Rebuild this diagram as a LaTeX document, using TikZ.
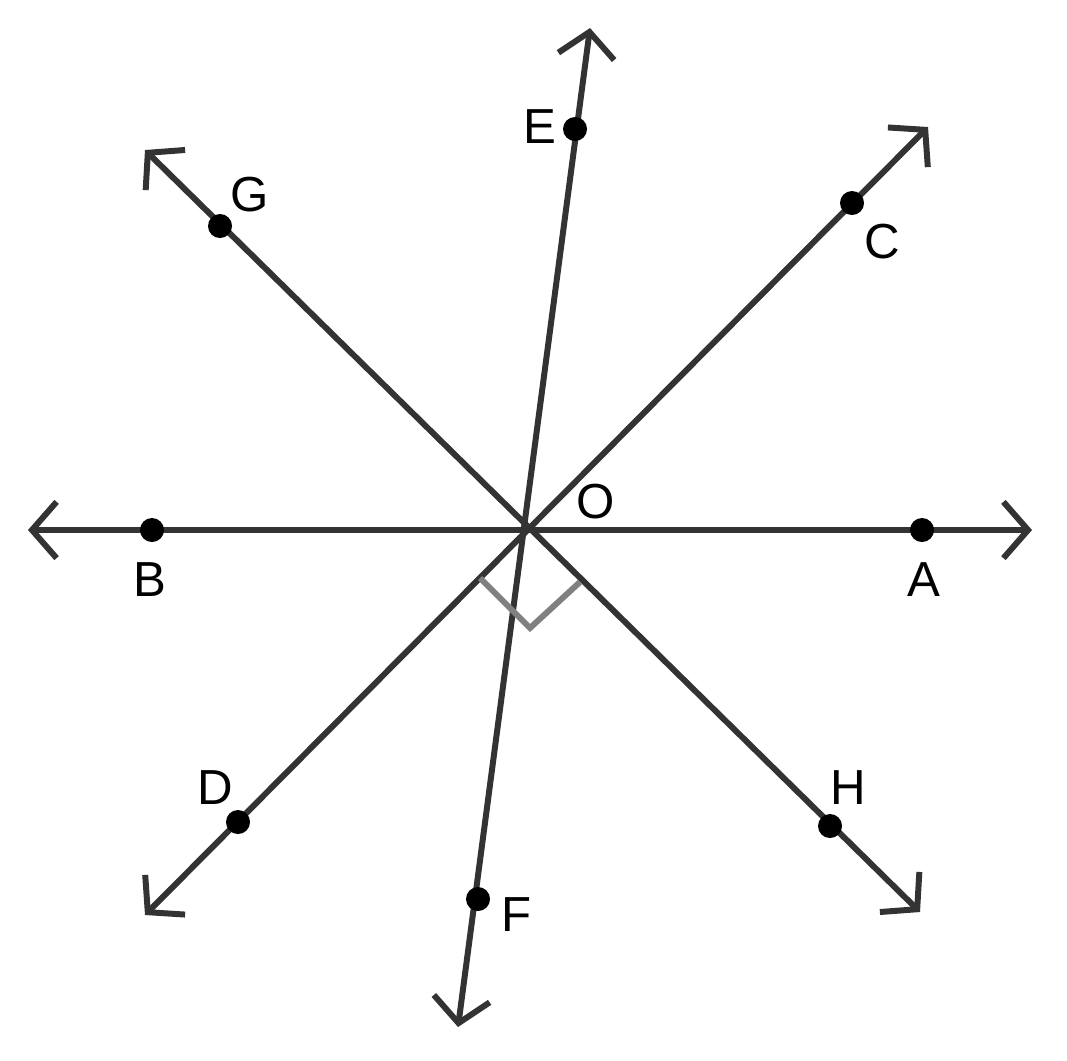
\documentclass[tikz,border=0pt]{standalone}
\usepackage{fontspec}
\setmainfont{Liberation Sans}
\usetikzlibrary{arrows.meta}
\begin{document}
\begin{tikzpicture}[x=0.01cm,y=-0.01cm,
  ln/.style={line width=1.7pt,draw={rgb,255:red,51;green,51;blue,51},{Straight Barb[length=7pt,width=16pt,line width=1.7pt]}-{Straight Barb[length=7pt,width=16pt,line width=1.7pt]}},
  pt/.style={circle,fill=black,inner sep=0pt,minimum size=0.24cm},
  lab/.style={font=\fontsize{14pt}{16pt}\selectfont,inner sep=0pt}]
\useasboundingbox (0,0) rectangle (1067,1060);
\coordinate (O) at (526,530);
\coordinate (l1) at (28,530); \coordinate (r1) at (1032,530);
\coordinate (t2) at (590,28); \coordinate (b2) at (458,1027);
\coordinate (t3) at (928,127); \coordinate (b3) at (145,915);
\coordinate (t4) at (145,150); \coordinate (b4) at (920,912);
\draw[ln] (l1) -- (r1);
\draw[ln] (t2) -- (b2);
\draw[ln] (t3) -- (b3);
\draw[ln] (t4) -- (b4);
\coordinate (m1) at (480,578); \coordinate (m2) at (530,628); \coordinate (m3) at (580,582);
\draw[line width=1.7pt,draw={rgb,255:red,128;green,128;blue,128}] (m1) -- (m2) -- (m3);
\node[pt] (B) at (152,530) {}; \node[pt] (A) at (922,530) {};
\node[pt] (E) at (575,129) {}; \node[pt] (F) at (478,899) {};
\node[pt] (C) at (852,203) {}; \node[pt] (D) at (238,822) {};
\node[pt] (G) at (220,226) {}; \node[pt] (H) at (830,826) {};
\node[lab] (lE) at (540,127) {E};
\node[lab] (lG) at (250,195) {G};
\node[lab] (lC) at (882,242) {C};
\node[lab] (lO) at (596,502) {O};
\node[lab] (lB) at (150,580) {B};
\node[lab] (lA) at (924,580) {A};
\node[lab] (lD) at (215,788) {D};
\node[lab] (lH) at (848,788) {H};
\node[lab] (lF) at (517,915) {F};
\end{tikzpicture}
\end{document}
